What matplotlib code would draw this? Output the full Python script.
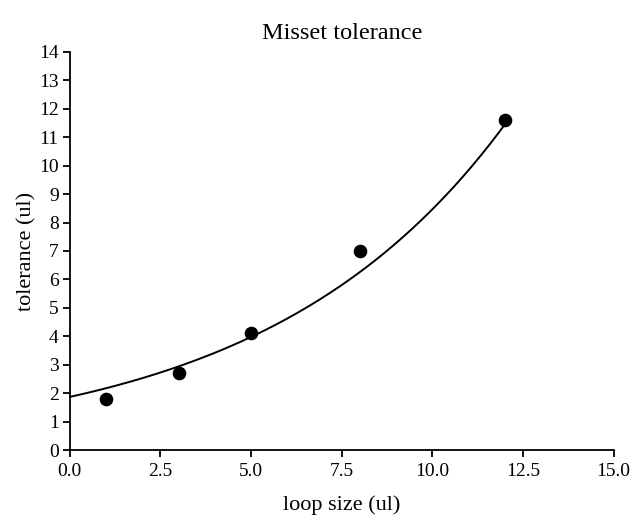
import numpy as np
import matplotlib
matplotlib.use('Agg')
import matplotlib.pyplot as plt
from matplotlib.ticker import FormatStrFormatter

loop_size = [1, 3, 5, 8, 12]
tolerance = [1.8, 2.7, 4.1, 7.0, 11.6]

# exponential trendline y = a * exp(b * x), parameters
fit_a = 1.87
fit_b = 0.151

plt.rcParams['font.family'] = ['Liberation Serif', 'DejaVu Serif']
tick_size = 14
label_size = 16

fig = plt.figure(figsize=(6.34, 5.18), dpi=100)
ax = fig.add_axes([0.110, 0.131, 0.858, 0.769])

xs = np.linspace(0, max(loop_size), 200)
ax.plot(xs, fit_a * np.exp(fit_b * xs), color='black', lw=1.4)
ax.plot(loop_size, tolerance, 'o', color='black', markersize=8.8, clip_on=False)

ax.set_xlim(0, 15)
ax.set_ylim(0, 14)
ax.set_xticks(np.arange(0, 15.1, 2.5))
ax.set_yticks(range(0, 15))
ax.xaxis.set_major_formatter(FormatStrFormatter('%.1f'))

for side in ['top', 'right']:
  ax.spines[side].set_visible(False)
for side in ['left', 'bottom']:
  ax.spines[side].set_linewidth(1.3)
ax.tick_params(direction='out', length=5, width=1.3, labelsize=tick_size)
ax.tick_params(axis='x', pad=4)
ax.tick_params(axis='y', pad=3)

ax.set_title('Misset tolerance', fontsize=17.5, pad=9)
ax.set_xlabel('loop size (ul)', fontsize=label_size, labelpad=11)
ax.set_ylabel('tolerance (ul)', fontsize=label_size, labelpad=2)

fig.savefig('out.png', dpi=100)
